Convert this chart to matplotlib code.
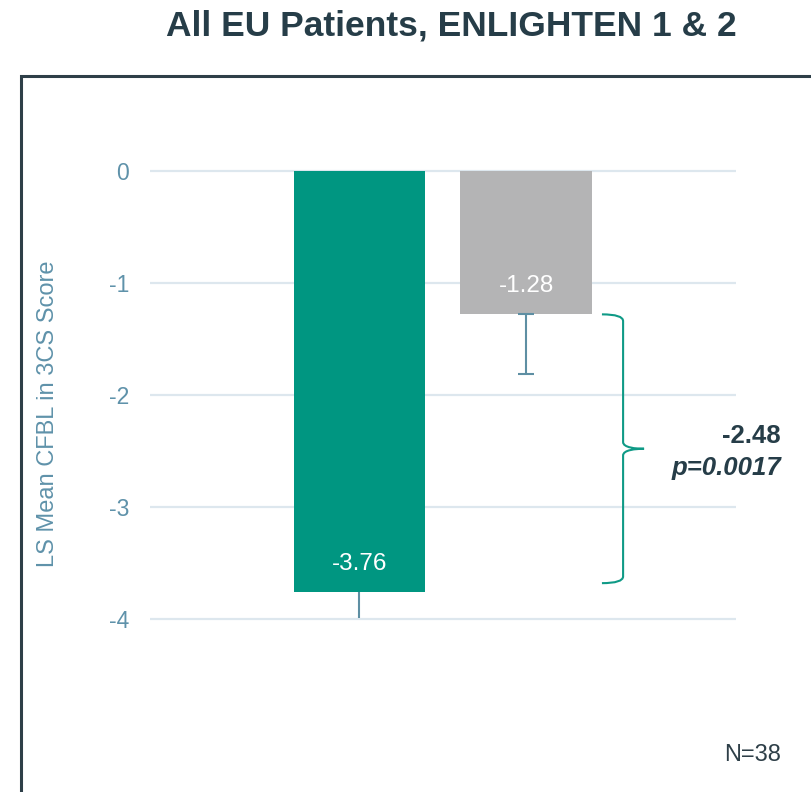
import matplotlib
matplotlib.use("Agg")
import matplotlib.pyplot as plt
from matplotlib.patches import Rectangle, PathPatch
from matplotlib.path import Path

plt.rcParams['font.family'] = ['Liberation Sans', 'DejaVu Sans']

# data
groups = ["Active", "Placebo"]
values = [-3.76, -1.28]
errors = [0.23, 0.53]
bar_colors = ["#009681", "#b4b4b5"]
yticks = [0, -1, -2, -3, -4]
diff_label = "-2.48"
p_label = "p=0.0017"
n_label = "N=38"
title = "All EU Patients, ENLIGHTEN 1 & 2"
ylabel = "LS Mean CFBL in 3CS Score"

W, H = 812, 792
fig = plt.figure(figsize=(W/100, H/100), dpi=100)
fig.patch.set_facecolor("white")

# frame (only top and left visible)
fig.patches.append(Rectangle((21/W, -0.05), 1.2, (H-76)/H + 0.05, transform=fig.transFigure,
                             fill=False, edgecolor="#2e3f48", lw=2.2, zorder=0))

fig.text(737/W, 1-26/H, title, ha="right", va="center", fontsize=25.5,
         fontweight="bold", color="#263d48")

ax = fig.add_axes([150/W, 0, (736-150)/W, (H-76)/H])
ax.set_facecolor("none")
x = [0, 1]
ax.bar(x, values, width=0.787, color=bar_colors, zorder=3)
# error bars (downward)
ax.errorbar([x[0]], [values[0]], yerr=[[errors[0]], [0]], fmt="none",
            ecolor="#5e8fa3", elinewidth=1.5, capsize=0, zorder=4)
ax.errorbar([x[1]], [values[1]], yerr=[[errors[1]], [0]], fmt="none",
            ecolor="#5e8fa3", elinewidth=1.5, capsize=6, capthick=1.5, zorder=4)

ax.set_xlim(-1.258, 2.261)
ax.set_ylim(-(792-171)/112, (171-76)/112)
ax.set_yticks(yticks)
ax.set_yticklabels([str(t) for t in yticks])
ax.grid(axis="y", color="#dde7ee", lw=1.6, zorder=1)
ax.set_xticks([])
for s in ax.spines.values():
    s.set_visible(False)
ax.tick_params(axis="y", length=0, pad=15, labelsize=16.5, labelcolor="#5f92aa")

# bar value labels
for xi, v in zip(x, values):
    ax.text(xi, v + 0.25, f"{v:.2f}", ha="center", va="center", color="white",
            fontsize=17.5, zorder=5)

# curly brace between the two bar tops
top = values[1]
bot = values[0] + 0.08
mid = (top + bot) / 2
x0, x1, xt = 1.456, 1.583, 1.709
r = 0.06
verts = [(x0, top), (x1, top), (x1, top - r),
         (x1, mid + r), (x1, mid + 0.01), (xt - 0.05, mid), (xt, mid),
         (xt - 0.05, mid), (x1, mid - 0.01), (x1, mid - r),
         (x1, bot + r), (x1, bot), (x0, bot)]
codes = [Path.MOVETO, Path.CURVE3, Path.CURVE3,
         Path.LINETO, Path.CURVE4, Path.CURVE4, Path.CURVE4,
         Path.CURVE4, Path.CURVE4, Path.CURVE4,
         Path.LINETO, Path.CURVE3, Path.CURVE3]
ax.add_patch(PathPatch(Path(verts, codes), fill=False, edgecolor="#0f9a86",
                       lw=1.5, clip_on=False, zorder=5))

fig.text(781/W, 1-436/H, diff_label, ha="right", va="center", fontsize=18.5,
         fontweight="bold", color="#263d48")
fig.text(781/W, 1-468/H, p_label, ha="right", va="center", fontsize=18.5,
         fontweight="bold", style="italic", color="#263d48")

fig.text(48/W, 1-414/H, ylabel, rotation=90, ha="center", va="center",
         fontsize=17, color="#5f92aa")
fig.text(781/W, 1-755/H, n_label, ha="right", va="center", fontsize=17,
         color="#2e3f48")

fig.savefig("out.png", dpi=100)
